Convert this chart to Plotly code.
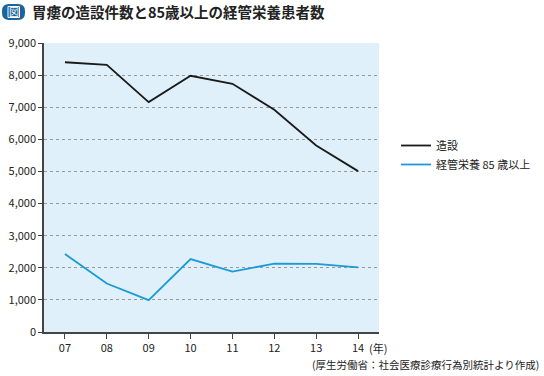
import plotly.graph_objects as go

years = [7, 8, 9, 10, 11, 12, 13, 14]
year_labels = ["07", "08", "09", "10", "11", "12", "13", "14"]
zousetsu = [8400, 8320, 7160, 7980, 7730, 6920, 5810, 5010]
keikan85 = [2430, 1510, 990, 2270, 1880, 2130, 2120, 2010]
y_ticks = [0, 1000, 2000, 3000, 4000, 5000, 6000, 7000, 8000, 9000]
y_tick_labels = ["0", "1,000", "2,000", "3,000", "4,000", "5,000", "6,000", "7,000", "8,000", "9,000"]

FONT = "Noto Sans CJK JP"
W, H = 544, 376
L, R, T, B = 44, 165, 43, 44
pw, ph = W - L - R, H - T - B

def px(x):
    return (x - L) / pw

def py(y):
    return (H - B - y) / ph

fig = go.Figure()
fig.add_trace(go.Scatter(x=years, y=zousetsu, mode="lines", name="造設",
                         line=dict(color="#1a1a1a", width=1.8)))
fig.add_trace(go.Scatter(x=years, y=keikan85, mode="lines", name="経管栄養 85 歳以上",
                         line=dict(color="#1a9ad6", width=1.8)))

def rounded(xa, xb, ya, yb, r):
    x0, x1, y0, y1 = px(xa), px(xb), py(yb), py(ya)
    rx, ry = r / pw, r / ph
    return (f"M {x0+rx},{y0} L {x1-rx},{y0} Q {x1},{y0} {x1},{y0+ry} "
            f"L {x1},{y1-ry} Q {x1},{y1} {x1-rx},{y1} L {x0+rx},{y1} "
            f"Q {x0},{y1} {x0},{y1-ry} L {x0},{y0+ry} Q {x0},{y0} {x0+rx},{y0} Z")

fig.update_layout(
    width=W, height=H,
    margin=dict(l=L, r=R, t=T, b=B, autoexpand=False),
    paper_bgcolor="white",
    plot_bgcolor="#dff0fa",
    font=dict(family=FONT, size=11, color="#222"),
    showlegend=True,
    legend=dict(x=px(396), y=py(131), xanchor="left", yanchor="top",
                bgcolor="rgba(0,0,0,0)", font=dict(size=11, color="#222"),
                itemwidth=30, tracegroupgap=0),
    xaxis=dict(range=[6.5, 14.5], tickvals=years, ticktext=year_labels,
               showgrid=False, zeroline=False, showline=True,
               linecolor="#444", linewidth=1.5, ticks="outside",
               ticklen=5, tickcolor="#444", tickfont=dict(size=11, color="#222")),
    yaxis=dict(range=[0, 9000], tickvals=y_ticks, ticktext=y_tick_labels,
               showgrid=True, gridcolor="#999", griddash="dot", gridwidth=1,
               zeroline=False, showline=True, linecolor="#444", linewidth=1.5,
               ticks="outside", ticklen=4, tickcolor="#444",
               tickfont=dict(size=11, color="#222")),
    shapes=[
        dict(type="path", xref="paper", yref="paper", path=rounded(2, 25, 4, 20, 7),
             fillcolor="#1a65a0", line=dict(width=0)),
        dict(type="rect", xref="paper", yref="paper",
             x0=px(8), x1=px(19.5), y0=py(17.5), y1=py(6.5),
             fillcolor="rgba(0,0,0,0)", line=dict(color="white", width=1)),
    ],
    annotations=[
        dict(text="図", xref="paper", yref="paper", x=px(13.8), y=py(12),
             xanchor="center", yanchor="middle", showarrow=False,
             font=dict(size=10, color="white", family=FONT)),
        dict(text="<b>胃瘻の造設件数と85歳以上の経管栄養患者数</b>", xref="paper", yref="paper",
             x=px(30), y=py(12), xanchor="left", yanchor="middle", showarrow=False,
             font=dict(size=14.5, color="#222", family=FONT)),
        dict(text="(年)", xref="paper", yref="paper", x=px(367), y=py(348),
             xanchor="left", yanchor="middle", showarrow=False,
             font=dict(size=11, color="#222", family=FONT)),
        dict(text="(厚生労働省：社会医療診療行為別統計より作成)", xref="paper", yref="paper",
             x=px(541), y=py(364), xanchor="right", yanchor="middle", showarrow=False,
             font=dict(size=10.5, color="#222", family=FONT)),
    ],
)

fig.write_html("out.html", config={"displayModeBar": False},
               post_script="document.body.style.margin='0';")
